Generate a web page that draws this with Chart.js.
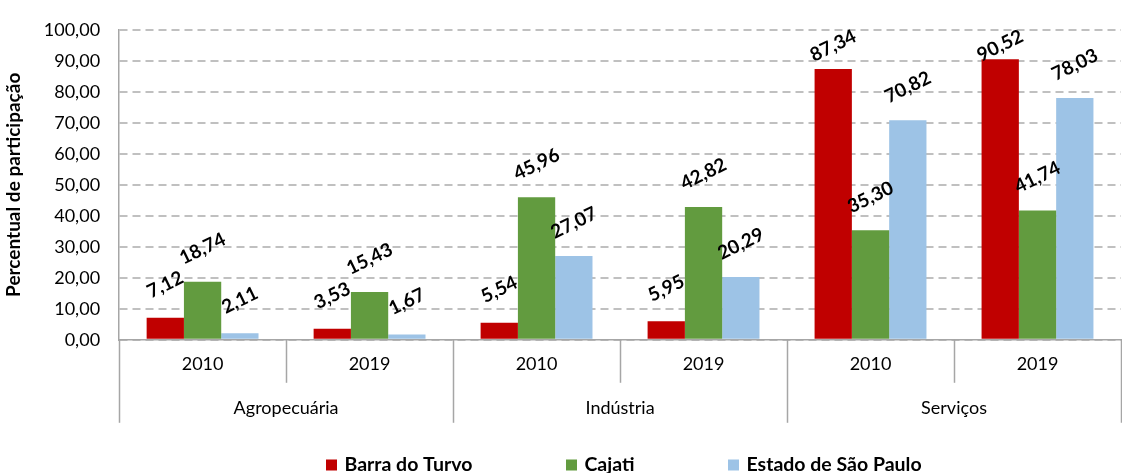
<!DOCTYPE html>
<html>
<head>
<meta charset="utf-8">
<script src="https://cdn.jsdelivr.net/npm/chart.js@4"></script>
<style>
  html, body { margin: 0; padding: 0; background: #fff; }
  #wrap { width: 1122px; height: 473px; }
</style>
</head>
<body>
<div id="wrap"><canvas id="chart"></canvas></div>
<script>
// --- data ---
const years = ['2010', '2019', '2010', '2019', '2010', '2019'];
const sectors = ['Agropecuária', 'Indústria', 'Serviços'];
const barraDoTurvo = [7.12, 3.53, 5.54, 5.95, 87.34, 90.52];
const cajati = [18.74, 15.43, 45.96, 42.82, 35.30, 41.74];
const estadoSP = [2.11, 1.67, 27.07, 20.29, 70.82, 78.03];
const yTicks = [0, 10, 20, 30, 40, 50, 60, 70, 80, 90, 100];

const fmt = v => v.toFixed(2).replace('.', ',');
const FONT = 'Lato';
const AXIS_GREY = '#a6a6a6';

// value labels, rotated, above each bar
const barLabels = {
    id: 'barLabels',
    afterDatasetsDraw(chart) {
        const ctx = chart.ctx;
        ctx.save();
        ctx.font = 'bold 19px ' + FONT;
        ctx.fillStyle = '#000';
        ctx.textAlign = 'center';
        ctx.textBaseline = 'middle';
        chart.data.datasets.forEach((ds, di) => {
            chart.getDatasetMeta(di).data.forEach((bar, i) => {
                const y = Math.max(bar.y - 33, chart.chartArea.top + 16);
                ctx.save();
                ctx.translate(bar.x, y);
                ctx.rotate(-26 * Math.PI / 180);
                ctx.fillText(fmt(ds.data[i]), 0, 0);
                ctx.restore();
            });
        });
        ctx.restore();
    }
};

// separators of the two-level category axis
const axisLines = {
    id: 'axisLines',
    afterDraw(chart) {
        const x = chart.scales.x;
        const ctx = chart.ctx;
        const half = (x.getPixelForValue(1) - x.getPixelForValue(0)) / 2;
        const top = chart.chartArea.bottom;
        ctx.save();
        ctx.strokeStyle = AXIS_GREY;
        ctx.lineWidth = 1.5;
        for (let i = 0; i <= years.length; i++) {
            const px = Math.round(x.getPixelForValue(Math.min(i, years.length - 1)) + (i === years.length ? half : -half)) + 0.5;
            const bottom = top + (i % 2 === 0 ? 83 : 43);
            ctx.beginPath();
            ctx.moveTo(px, top);
            ctx.lineTo(px, bottom);
            ctx.stroke();
        }
        ctx.restore();
    }
};

// legend drawn at the bottom, spaced like the original
const bottomLegend = {
    id: 'bottomLegend',
    afterDraw(chart) {
        const ctx = chart.ctx;
        const area = chart.chartArea;
        const gap = 94, box = 11, textGap = 7;
        ctx.save();
        ctx.font = 'bold 19.5px ' + FONT;
        ctx.textBaseline = 'middle';
        const items = chart.data.datasets.map(ds => ({
            text: ds.label, color: ds.backgroundColor, w: box + textGap + ctx.measureText(ds.label).width
        }));
        const total = items.reduce((s, it) => s + it.w, 0) + gap * (items.length - 1);
        let cx = (area.left + area.right) / 2 + 4 - total / 2;
        const cy = 465;
        items.forEach(it => {
            ctx.fillStyle = it.color;
            ctx.fillRect(Math.round(cx), cy - box / 2, box, box);
            ctx.fillStyle = '#000';
            ctx.fillText(it.text, cx + box + textGap, cy);
            cx += it.w + gap;
        });
        ctx.restore();
    }
};

new Chart(document.getElementById('chart'), {
    type: 'bar',
    data: {
        labels: years,
        datasets: [
            { label: 'Barra do Turvo', data: barraDoTurvo, backgroundColor: '#c00000' },
            { label: 'Cajati', data: cajati, backgroundColor: '#629b3f' },
            { label: 'Estado de São Paulo', data: estadoSP, backgroundColor: '#9dc3e6' }
        ]
    },
    options: {
        responsive: true,
        maintainAspectRatio: false,
        animation: false,
        layout: { padding: { top: 9, left: 2, right: 1, bottom: 46 } },
        datasets: { bar: { categoryPercentage: 0.67, barPercentage: 1.0 } },
        plugins: {
            tooltip: { enabled: false },
            legend: { display: false }
        },
        scales: {
            y: {
                min: 0,
                max: 100,
                afterBuildTicks: scale => { scale.ticks = yTicks.map(v => ({ value: v })); },
                grid: { color: '#c0c0c0', lineWidth: 2, drawTicks: false },
                border: { display: true, color: AXIS_GREY, width: 1.5, dash: [8, 5] },
                ticks: {
                    color: '#000',
                    font: { family: FONT, size: 18 },
                    padding: 19,
                    autoSkip: false,
                    callback: v => fmt(v)
                },
                title: {
                    display: true,
                    text: 'Percentual de participação',
                    color: '#000',
                    font: { family: FONT, size: 19, weight: 'bold' },
                    padding: { top: 0, bottom: 0 }
                }
            },
            x: {
                grid: { display: false, drawTicks: false },
                border: { display: true, color: AXIS_GREY, width: 1.5 },
                ticks: { color: '#000', font: { family: FONT, size: 18 }, padding: 14, maxRotation: 0, autoSkip: false }
            },
            x2: {
                type: 'category',
                labels: sectors,
                position: 'bottom',
                offset: true,
                grid: { display: false, drawTicks: false },
                border: { display: false },
                ticks: { color: '#000', font: { family: FONT, size: 18 }, padding: 8, maxRotation: 0 }
            }
        }
    },
    plugins: [barLabels, axisLines, bottomLegend]
});
</script>
</body>
</html>
